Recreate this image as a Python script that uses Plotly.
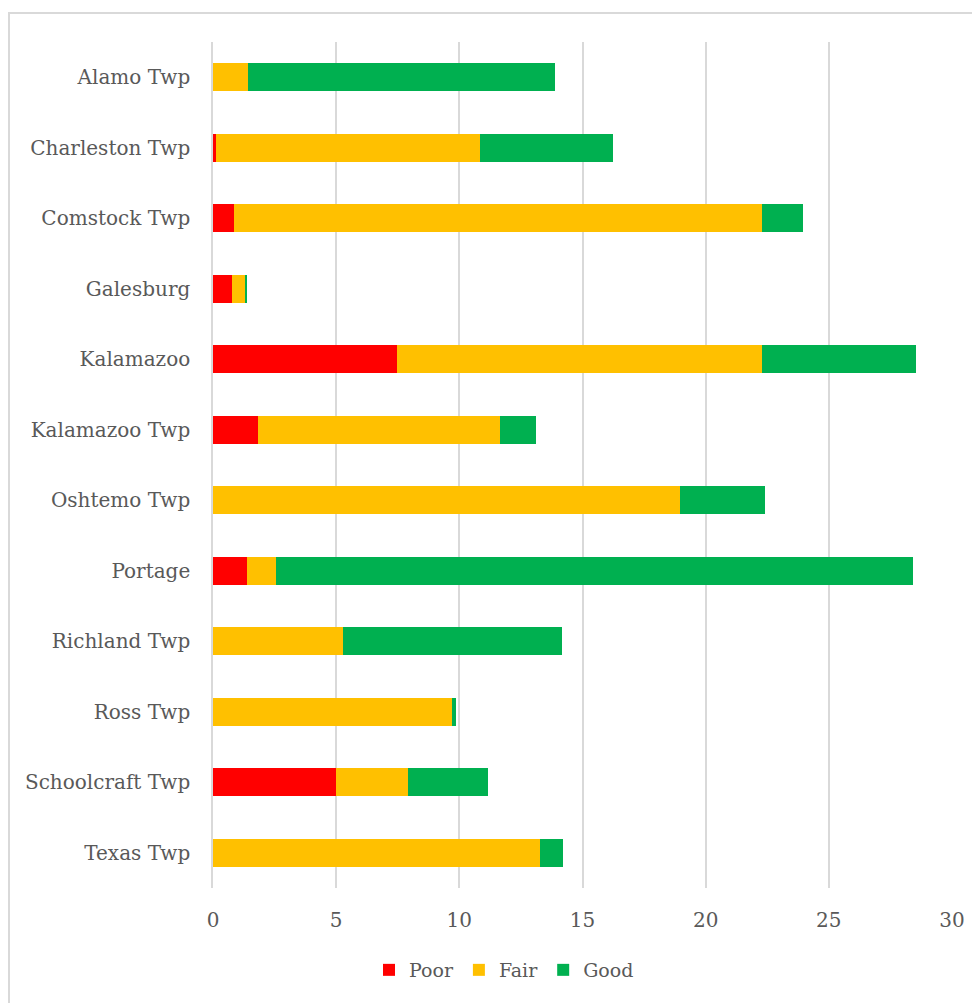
import plotly.graph_objects as go

categories = ["Alamo Twp", "Charleston Twp", "Comstock Twp", "Galesburg", "Kalamazoo",
              "Kalamazoo Twp", "Oshtemo Twp", "Portage", "Richland Twp", "Ross Twp",
              "Schoolcraft Twp", "Texas Twp"]
poor = [0.0, 0.12, 0.85, 0.77, 7.47, 1.83, 0.0, 1.38, 0.0, 0.0, 4.99, 0.0]
fair = [1.42, 10.72, 21.44, 0.53, 14.82, 9.82, 18.96, 1.18, 5.28, 9.70, 2.93, 13.28]
good = [12.46, 5.40, 1.66, 0.08, 6.25, 1.46, 3.45, 25.86, 8.89, 0.17, 3.25, 0.93]
x_ticks = [0, 5, 10, 15, 20, 25, 30]

FONT = "DejaVu Serif"
TXT = "#595959"

fig = go.Figure()
for name, vals, col in [("Poor", poor, "#FF0000"), ("Fair", fair, "#FFC000"), ("Good", good, "#00B050")]:
    fig.add_trace(go.Bar(y=categories, x=vals, name=name, orientation="h",
                         marker=dict(color=col, line=dict(width=0))))

# page body has an 8px margin; compensate
OFF = 8
W, H = 980 - OFF, 1003 - OFF
L, R, T, B = 213 - OFF, W - (952 - OFF), 42 - OFF, H - (888 - OFF)
pw, ph = W - L - R, H - T - B

def px_x(p):
    return (p - OFF - L) / pw

def px_y(p):
    return (H - B - (p - OFF)) / ph

fig.update_layout(
    width=W, height=H,
    margin=dict(l=L, r=R, t=T, b=B),
    barmode="stack", bargap=0.6,
    plot_bgcolor="white", paper_bgcolor="white",
    font=dict(family=FONT, color=TXT, size=20),
    xaxis=dict(range=[0, 30], tickvals=x_ticks, showgrid=True, gridcolor="#d9d9d9", gridwidth=1.5,
               zeroline=False, showline=False, ticks="", ticklabelstandoff=18,
               tickfont=dict(size=20, color=TXT, family=FONT)),
    yaxis=dict(autorange="reversed", showgrid=False, showline=True, linecolor="#d9d9d9", linewidth=1.5,
               ticks="", ticklabelstandoff=17, tickfont=dict(size=20, color=TXT, family=FONT)),
    legend=dict(orientation="h", x=px_x(504), xanchor="center", y=px_y(970), yanchor="middle",
                font=dict(size=19, color=TXT, family=FONT), traceorder="normal",
                itemwidth=30),
    shapes=[dict(type="rect", xref="paper", yref="paper", x0=px_x(9), x1=px_x(1100),
                 y0=px_y(1100), y1=px_y(13), line=dict(color="#d9d9d9", width=2),
                 fillcolor="rgba(0,0,0,0)", layer="below")],
)

fig.write_html("out.html")
